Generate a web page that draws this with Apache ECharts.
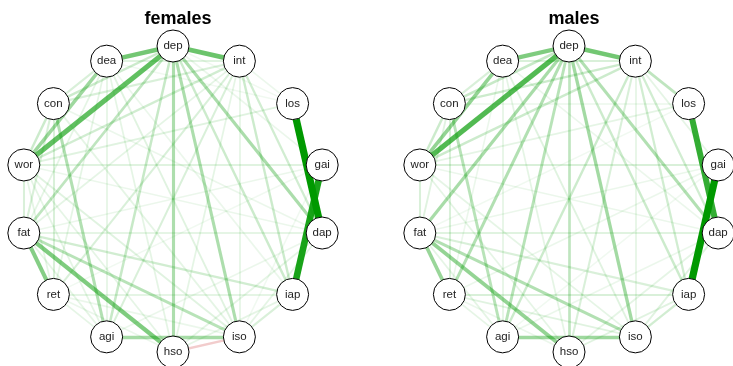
<!DOCTYPE html>
<html>
<head>
<meta charset="utf-8">
<script src="https://cdn.jsdelivr.net/npm/echarts@6/dist/echarts.min.js"></script>
<style>html,body{margin:0;padding:0;background:#fff;}#chart{width:733px;height:366px;}</style>
</head>
<body>
<div id="chart"></div>
<script>
// Node labels, clockwise starting at the top of each circle
const nodeNames = ['dep','int','los','gai','dap','iap','iso','hso','agi','ret','fat','wor','con','dea'];
const panelTitles = ['females','males'];

// Edge weights (relative partial correlations), [source, target, weight]
const femaleEdges = [
  ['los','dap',1.0],['gai','iap',0.9],['dep','wor',0.62],['dep','int',0.58],['dep','dea',0.55],
  ['fat','hso',0.5],['fat','ret',0.48],['dea','wor',0.38],['agi','iso',0.35],['dep','dap',0.33],
  ['dep','hso',0.32],['dep','iso',0.32],['con','agi',0.3],['fat','iso',0.28],['dep','fat',0.25],
  ['dep','agi',0.22],['hso','iso',-0.2],['dep','iap',0.2],['int','iap',0.2],['int','dap',0.18],
  ['con','wor',0.2],['con','dep',0.2],['wor','int',0.18],['con','int',0.15],['fat','iap',0.18],
  ['ret','int',0.15],['agi','int',0.15],['wor','gai',0.12],['fat','dap',0.1],['ret','iap',0.1],
  ['los','wor',0.12],['con','fat',0.15],['wor','fat',0.15],['wor','ret',0.1],['con','ret',0.15],
  ['agi','dea',0.1],['hso','dea',0.1],['iso','dea',0.12],['iso','con',0.1],['iso','wor',0.12],
  ['hso','wor',0.1],['hso','int',0.1],['agi','wor',0.1],['ret','dea',0.1],['ret','agi',0.1],
  ['dap','wor',0.08],['dap','con',0.08],['iap','dea',0.08],['iap','iso',0.15],['iap','hso',0.1],
  ['dap','hso',0.1],['dap','agi',0.08],['gai','fat',0.08],['gai','ret',0.06],['los','int',0.08],
  ['los','dea',0.06],['int','dea',0.12],['int','iso',0.1],['gai','dep',0.08],['los','dep',0.06],
  ['dap','iso',0.1],['gai','iso',0.06],['fat','agi',0.1],['ret','hso',0.08],['dea','fat',0.1],
  ['dea','con',0.15],['int','fat',0.1],['ret','iso',0.08]
];
const maleEdges = [
  ['gai','iap',1.0],['los','dap',0.8],['dep','wor',0.68],['dep','int',0.55],['dep','dea',0.5],
  ['dea','wor',0.42],['fat','hso',0.42],['fat','ret',0.4],['agi','iso',0.38],['dep','iso',0.36],
  ['dep','fat',0.34],['dep','ret',0.3],['dep','dap',0.3],['dep','agi',0.28],['dep','hso',0.25],
  ['con','agi',0.28],['fat','iso',0.3],['int','los',0.25],['dep','iap',0.2],['int','iap',0.18],
  ['int','dap',0.18],['int','agi',0.2],['int','hso',0.15],['con','dep',0.22],['con','wor',0.2],
  ['con','int',0.2],['wor','int',0.2],['dea','int',0.15],['ret','iap',0.15],['ret','iso',0.12],
  ['wor','gai',0.15],['fat','dap',0.12],['fat','iap',0.15],['con','ret',0.15],['wor','fat',0.15],
  ['con','fat',0.12],['iap','iso',0.18],['hso','iap',0.12],['dap','iso',0.12],['dea','agi',0.1],
  ['dea','hso',0.1],['dea','iso',0.12],['wor','iso',0.1],['wor','hso',0.1],['ret','agi',0.1],
  ['ret','dea',0.08],['dap','wor',0.08],['los','wor',0.1],['los','con',0.08],['gai','int',0.1],
  ['gai','fat',0.08],['gai','ret',0.08],['dap','agi',0.08],['dap','hso',0.1],['hso','ret',0.08],
  ['fat','agi',0.1],['dea','con',0.15],['int','iso',0.1],['dap','dea',0.08],['los','fat',0.06],
  ['gai','agi',0.06]
];

// ECharts' circular layout puts the first node half a step below the 3 o'clock position;
// rotate the order so that 'dep' lands at the top.
const n = nodeNames.length;
const topIndex = Math.round(n * 0.75 - 0.5); // index sitting at -90deg
const shift = (n - topIndex) % n;
const ordered = nodeNames.slice(shift).concat(nodeNames.slice(0, shift));

function linkStyle(w) {
  const a = Math.min(1, Math.abs(w));
  const col = w >= 0 ? 'rgba(0,153,0,' + a + ')' : 'rgba(191,0,0,' + a + ')';
  return { color: col, width: 1.2 + 6 * a, opacity: 1, curveness: 0 };
}
function makeSeries(edges, cx) {
  const links = edges.slice().sort((p, q) => Math.abs(p[2]) - Math.abs(q[2]))
    .map(e => ({ source: e[0], target: e[1], value: e[2], lineStyle: linkStyle(e[2]) }));
  return {
    type: 'graph',
    layout: 'circular',
    circular: { rotateLabel: false },
    left: cx - 153, top: 46, width: 306, height: 306,
    roam: false,
    silent: true,
    symbol: 'circle',
    symbolSize: 32,
    itemStyle: { color: '#fff', borderColor: '#000', borderWidth: 1 },
    label: { show: true, position: 'inside', color: '#222', fontSize: 11.5, fontFamily: 'Liberation Sans' },
    lineStyle: { opacity: 1 },
    emphasis: { disabled: true },
    data: ordered.map(name => ({ name: name })),
    links: links
  };
}

const chart = echarts.init(document.getElementById('chart'));
chart.setOption({
  animation: false,
  backgroundColor: '#fff',
  title: panelTitles.map((t, i) => ({
    text: t, left: i === 0 ? 173 : 569, top: 5, textAlign: 'center',
    textStyle: { fontSize: 18, fontWeight: 'bold', color: '#000', fontFamily: 'Liberation Sans' }
  })),
  series: [makeSeries(femaleEdges, 173), makeSeries(maleEdges, 569)]
});
</script>
</body>
</html>
